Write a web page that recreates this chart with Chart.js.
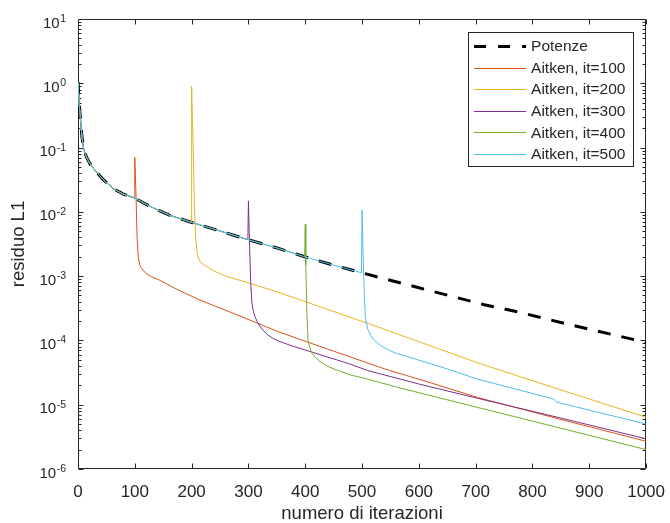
<!DOCTYPE html>
<html>
<head>
<meta charset="utf-8">
<title>residuo L1</title>
<script src="https://cdn.jsdelivr.net/npm/chart.js@4.4.1/dist/chart.umd.min.js"></script>
<style>
  html, body { margin: 0; padding: 0; background: #fff; }
  canvas { display: block; }
</style>
</head>
<body>
<canvas id="residui" width="670" height="523"></canvas>
<script>
// Metodo delle potenze: residuo L1 per iterazione
const potenzeIt = [0, 2, 4, 7, 10, 15, 21, 30, 44, 62, 79, 99, 130, 161, 199, 248, 299, 353, 399, 450, 499, 600, 715, 773, 850, 1000];
const potenzeRes = [1.05, 0.49, 0.3, 0.146, 0.095, 0.071, 0.056, 0.044, 0.032, 0.023, 0.019, 0.0165, 0.0118, 0.0089, 0.0069, 0.0051, 0.0037, 0.0027, 0.002, 0.00148, 0.00113, 0.00066, 0.00036, 0.00028, 0.00019, 0.000093];

// Aitken: stesse iterate delle potenze fino a "it", poi estrapolazione
const aitkenStart = [100, 200, 300, 400, 500];

const aitken100It = [100, 102, 104, 106, 109, 114, 120, 130, 143, 170, 213, 280, 353, 450, 540, 620, 703, 850, 1000];
const aitken100Res = [0.07, 0.02, 0.004, 0.002, 0.00145, 0.00125, 0.0011, 0.00097, 0.00087, 0.00065, 0.00043, 0.00025, 0.000136, 0.000068, 0.000036, 0.000022, 0.000013, 0.0000059, 0.0000027];

const aitken200It = [200, 203, 205, 207, 210, 214, 222, 237, 260, 295, 353, 528, 703, 825, 1000];
const aitken200Res = [0.9, 0.08, 0.012, 0.004, 0.0022, 0.0017, 0.0015, 0.00123, 0.001, 0.00081, 0.00056, 0.000162, 0.000045, 0.00002, 0.0000064];

const aitken300It = [300, 302, 304, 306, 308, 311, 315, 320, 326, 334, 343, 353, 375, 400, 475, 510, 600, 703, 850, 1000];
const aitken300Res = [0.0148, 0.003, 0.0008, 0.0004, 0.0003, 0.00024, 0.0002, 0.000168, 0.000143, 0.000122, 0.000108, 0.000098, 0.000083, 0.000071, 0.000044, 0.000034, 0.000021, 0.0000126, 0.0000062, 0.00000295];

const aitken400It = [400, 401, 403, 405, 408, 412, 418, 426, 436, 447, 458, 480, 510, 563, 703, 850, 1000];
const aitken400Res = [0.0064, 0.0015, 0.00025, 0.0001, 0.000078, 0.000063, 0.000054, 0.000047, 0.000041, 0.000037, 0.000034, 0.000029, 0.000025, 0.0000186, 0.0000091, 0.0000043, 0.000002];

const aitken500It = [500, 502, 504, 506, 510, 515, 522, 532, 545, 560, 580, 598, 650, 703, 834, 838, 842, 1000];
const aitken500Res = [0.0106, 0.002, 0.0005, 0.00022, 0.00015, 0.00012, 0.0001, 0.000084, 0.000072, 0.000063, 0.000056, 0.00005, 0.000036, 0.000025, 0.0000125, 0.0000122, 0.000011, 0.000005];

const seriesLabels = ['Potenze', 'Aitken, it=100', 'Aitken, it=200', 'Aitken, it=300', 'Aitken, it=400', 'Aitken, it=500'];
const seriesColors = ['#000000', '#D95319', '#EDB120', '#7E2F8E', '#77AC30', '#4DBEEE'];

const yTickExps = [-6, -5, -4, -3, -2, -1, 0, 1];

const FONT = "'Liberation Sans', Arial, Helvetica, sans-serif";
const AXIS_COLOR = '#262626';

function toPoints(its, vals) {
  return its.map((it, i) => ({ x: it, y: vals[i] }));
}

const potenzePts = toPoints(potenzeIt, potenzeRes);
const aitkenTails = [
  toPoints(aitken100It, aitken100Res),
  toPoints(aitken200It, aitken200Res),
  toPoints(aitken300It, aitken300Res),
  toPoints(aitken400It, aitken400Res),
  toPoints(aitken500It, aitken500Res)
];

const datasets = [{
  label: seriesLabels[0],
  data: potenzePts,
  borderColor: seriesColors[0],
  borderWidth: 3,
  borderDash: [13, 11],
  order: 6
}];
aitkenTails.forEach((tail, k) => {
  const prefix = potenzePts.filter(p => p.x < aitkenStart[k]);
  datasets.push({
    label: seriesLabels[k + 1],
    data: prefix.concat(tail),
    borderColor: seriesColors[k + 1],
    borderWidth: 1,
    order: 5 - k
  });
});

// box, tacche interne, etichette 10^n e legenda
const matlabAxes = {
  id: 'matlabAxes',
  beforeDatasetsDraw(chart) {
    const { ctx, chartArea: a, scales: { x, y } } = chart;
    const L = Math.round(a.left) + 0.5, R = Math.round(a.right) - 0.5;
    const T = Math.round(a.top) + 0.5, B = Math.round(a.bottom) - 0.5;
    ctx.save();
    ctx.strokeStyle = AXIS_COLOR;
    ctx.lineWidth = 1;
    ctx.beginPath();
    ctx.rect(L, T, R - L, B - T);

    x.ticks.forEach(t => {
      const px = Math.round(x.getPixelForValue(t.value)) + 0.5;
      ctx.moveTo(px, B); ctx.lineTo(px, B - 5);
      ctx.moveTo(px, T); ctx.lineTo(px, T + 5);
    });

    yTickExps.forEach((e, i) => {
      const py = Math.round(y.getPixelForValue(Math.pow(10, e))) + 0.5;
      ctx.moveTo(L, py); ctx.lineTo(L + 5, py);
      ctx.moveTo(R, py); ctx.lineTo(R - 5, py);
      if (i < yTickExps.length - 1) {
        for (let m = 2; m <= 9; m++) {
          const pm = Math.round(y.getPixelForValue(m * Math.pow(10, e))) + 0.5;
          ctx.moveTo(L, pm); ctx.lineTo(L + 3, pm);
          ctx.moveTo(R, pm); ctx.lineTo(R - 3, pm);
        }
      }
    });
    ctx.stroke();

    ctx.fillStyle = AXIS_COLOR;
    ctx.textBaseline = 'alphabetic';
    yTickExps.forEach(e => {
      const py = y.getPixelForValue(Math.pow(10, e));
      const exp = String(e);
      ctx.font = '10.5px ' + FONT;
      const ew = ctx.measureText(exp).width;
      const ex = a.left - 12 - ew;
      ctx.textAlign = 'left';
      ctx.fillText(exp, ex, py + 3);
      ctx.font = '15px ' + FONT;
      ctx.textAlign = 'right';
      ctx.fillText('10', ex - 0.5, py + 8.5);
    });
    ctx.restore();
  },
  afterDraw(chart) {
    const { ctx, chartArea: a } = chart;
    const boxR = a.right - 13, boxT = a.top + 13;
    const boxW = 165, rowH = 21.6;
    const boxL = boxR - boxW;
    const boxH = 134;
    ctx.save();
    ctx.fillStyle = '#ffffff';
    ctx.fillRect(boxL, boxT, boxW, boxH);
    ctx.strokeStyle = AXIS_COLOR;
    ctx.lineWidth = 1;
    ctx.strokeRect(Math.round(boxL) + 0.5, Math.round(boxT) + 0.5, boxW, boxH);

    ctx.font = '15.5px ' + FONT;
    ctx.textBaseline = 'middle';
    ctx.textAlign = 'left';
    chart.data.datasets.forEach((ds, i) => {
      const cy = boxT + 14 + i * rowH;
      ctx.save();
      ctx.strokeStyle = ds.borderColor;
      ctx.lineWidth = ds.borderWidth;
      ctx.setLineDash(ds.borderDash ? [12, 12] : []);
      ctx.beginPath();
      ctx.moveTo(boxL + 6, Math.round(cy) + 0.5);
      ctx.lineTo(boxL + 58, Math.round(cy) + 0.5);
      ctx.stroke();
      ctx.restore();
      ctx.fillStyle = AXIS_COLOR;
      ctx.fillText(ds.label, boxL + 63, cy + 1);
    });
    ctx.restore();
  }
};

new Chart(document.getElementById('residui'), {
  type: 'line',
  data: { datasets: datasets },
  options: {
    responsive: false,
    animation: false,
    devicePixelRatio: 1,
    elements: {
      point: { radius: 0, hoverRadius: 0 },
      line: { tension: 0, fill: false, borderCapStyle: 'butt' }
    },
    layout: { padding: { top: 19, right: 20, left: 0, bottom: 0 } },
    plugins: {
      legend: { display: false },
      tooltip: { enabled: false }
    },
    scales: {
      x: {
        type: 'linear',
        min: 0,
        max: 1000,
        grid: { display: false },
        border: { display: false },
        ticks: {
          stepSize: 100,
          maxRotation: 0,
          autoSkip: false,
          padding: 5,
          color: AXIS_COLOR,
          font: { family: FONT, size: 17 },
          callback: v => String(v)
        },
        title: {
          display: true,
          text: 'numero di iterazioni',
          color: AXIS_COLOR,
          font: { family: FONT, size: 18.5, lineHeight: 1 },
          padding: { top: 0, bottom: 0 }
        },
        afterFit(scale) { scale.height = 54; }
      },
      y: {
        type: 'logarithmic',
        min: 1e-6,
        max: 10,
        grid: { display: false },
        border: { display: false },
        ticks: { display: false },
        title: {
          display: true,
          text: 'residuo L1',
          color: AXIS_COLOR,
          font: { family: FONT, size: 18.5, lineHeight: 1 },
          padding: { top: 10, bottom: 0 }
        },
        afterFit(scale) { scale.width = 78; }
      }
    }
  },
  plugins: [matlabAxes]
});
</script>
</body>
</html>
